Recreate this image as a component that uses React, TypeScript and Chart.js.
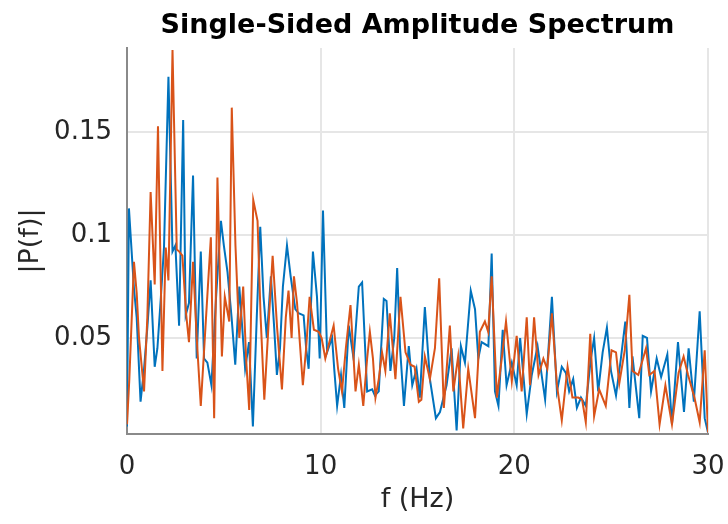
import { useEffect, useRef } from "react";
import { Chart, registerables } from "chart.js";

Chart.register(...registerables);

// Spectrum of the first signal (blue trace)
const blueFreq = [
  0, 0.1, 0.36, 0.5, 0.7, 0.88, 1.05, 1.22, 1.43, 1.57, 1.75, 1.91, 2.14, 2.35, 2.5, 2.69, 2.9, 3.03, 3.2, 3.41,
  3.6, 3.81, 3.98, 4.15, 4.36, 4.6, 4.85, 5.0, 5.19, 5.4, 5.59, 5.8, 5.95, 6.1, 6.3, 6.5, 6.7, 6.88, 7.05, 7.22,
  7.43, 7.6, 7.74, 7.9, 8.05, 8.26, 8.45, 8.69, 8.86, 9.12, 9.25, 9.38, 9.6, 9.81, 9.95, 10.12, 10.33, 10.59, 10.7, 10.85,
  11.05, 11.22, 11.45, 11.7, 11.97, 12.14, 12.4, 12.66, 12.8, 13.0, 13.26, 13.4, 13.6, 13.8, 13.95, 14.1, 14.3, 14.55, 14.73, 14.95,
  15.12, 15.38, 15.64, 15.95, 16.16, 16.5, 16.76, 17.02, 17.24, 17.45, 17.75, 17.97, 18.14, 18.31, 18.66, 18.83, 19.0, 19.18, 19.4, 19.6,
  19.87, 20.12, 20.3, 20.64, 20.9, 21.2, 21.59, 21.94, 22.2, 22.45, 22.66, 22.83, 23.04, 23.23, 23.44, 23.69, 23.95, 24.12, 24.33, 24.56,
  24.78, 24.99, 25.25, 25.5, 25.73, 25.94, 26.1, 26.45, 26.63, 26.85, 27.06, 27.35, 27.58, 27.9, 28.14, 28.45, 28.76, 29.0, 29.27, 29.57,
  29.83, 30.0,
];
const blueAmp = [
  0.007, 0.113, 0.074, 0.06, 0.019, 0.035, 0.055, 0.078, 0.036, 0.045, 0.07, 0.094, 0.177, 0.092, 0.095, 0.056, 0.156, 0.061, 0.067, 0.129,
  0.04, 0.092, 0.04, 0.038, 0.027, 0.07, 0.107, 0.095, 0.082, 0.06, 0.037, 0.075, 0.055, 0.035, 0.048, 0.007, 0.06, 0.104, 0.07, 0.05,
  0.08, 0.055, 0.032, 0.045, 0.075, 0.095, 0.08, 0.064, 0.062, 0.061, 0.045, 0.035, 0.092, 0.07, 0.04, 0.112, 0.043, 0.05, 0.035, 0.017,
  0.032, 0.016, 0.056, 0.04, 0.075, 0.077, 0.024, 0.025, 0.022, 0.024, 0.069, 0.068, 0.034, 0.05, 0.084, 0.045, 0.017, 0.046, 0.027, 0.035,
  0.021, 0.065, 0.03, 0.011, 0.014, 0.027, 0.045, 0.005, 0.046, 0.038, 0.073, 0.064, 0.04, 0.048, 0.046, 0.091, 0.024, 0.017, 0.054, 0.027,
  0.038, 0.027, 0.05, 0.013, 0.032, 0.046, 0.02, 0.07, 0.024, 0.036, 0.033, 0.024, 0.03, 0.016, 0.021, 0.017, 0.04, 0.05, 0.024, 0.043,
  0.055, 0.034, 0.022, 0.04, 0.058, 0.016, 0.041, 0.011, 0.051, 0.05, 0.024, 0.04, 0.031, 0.042, 0.008, 0.048, 0.014, 0.045, 0.019, 0.063,
  0.011, 0.004,
];

// Spectrum of the second signal (orange trace)
const orangeFreq = [
  0, 0.12, 0.36, 0.5, 0.62, 0.88, 1.05, 1.22, 1.43, 1.6, 1.83, 2.0, 2.14, 2.35, 2.57, 2.7, 2.86, 3.05, 3.2, 3.41,
  3.6, 3.81, 4.05, 4.33, 4.5, 4.67, 4.9, 5.05, 5.28, 5.41, 5.6, 5.8, 6.0, 6.15, 6.31, 6.52, 6.74, 6.9, 7.09, 7.3,
  7.52, 7.75, 8.0, 8.2, 8.34, 8.5, 8.62, 8.78, 9.08, 9.25, 9.43, 9.65, 9.9, 10.05, 10.24, 10.45, 10.67, 10.9, 11.1, 11.3,
  11.54, 11.8, 11.97, 12.2, 12.4, 12.54, 12.7, 12.83, 13.0, 13.17, 13.34, 13.57, 13.86, 14.12, 14.38, 14.64, 14.85, 15.07, 15.2, 15.38,
  15.64, 15.9, 16.12, 16.36, 16.67, 16.85, 17.1, 17.36, 17.62, 17.97, 18.22, 18.48, 18.65, 18.83, 19.1, 19.35, 19.57, 19.87, 20.12, 20.38,
  20.64, 20.81, 21.02, 21.25, 21.5, 21.7, 21.94, 22.2, 22.45, 22.75, 23.0, 23.3, 23.5, 23.69, 23.92, 24.12, 24.38, 24.72, 25.02, 25.25,
  25.42, 25.7, 25.94, 26.1, 26.4, 26.8, 26.97, 27.24, 27.5, 27.8, 28.14, 28.48, 28.74, 28.97, 29.3, 29.57, 29.83, 30.0,
];
const orangeAmp = [
  0.008, 0.03, 0.087, 0.072, 0.05, 0.024, 0.06, 0.121, 0.076, 0.153, 0.034, 0.094, 0.078, 0.19, 0.093, 0.092, 0.09, 0.062, 0.048, 0.087,
  0.05, 0.017, 0.055, 0.099, 0.011, 0.128, 0.041, 0.07, 0.058, 0.162, 0.095, 0.05, 0.075, 0.04, 0.015, 0.117, 0.107, 0.06, 0.02, 0.055,
  0.09, 0.055, 0.025, 0.06, 0.073, 0.05, 0.08, 0.067, 0.027, 0.045, 0.07, 0.054, 0.053, 0.05, 0.04, 0.048, 0.056, 0.035, 0.024, 0.045,
  0.066, 0.024, 0.037, 0.017, 0.04, 0.053, 0.04, 0.021, 0.03, 0.043, 0.034, 0.062, 0.03, 0.07, 0.043, 0.037, 0.036, 0.019, 0.02, 0.041,
  0.03, 0.045, 0.079, 0.016, 0.056, 0.024, 0.041, 0.006, 0.035, 0.011, 0.053, 0.058, 0.053, 0.08, 0.021, 0.04, 0.058, 0.029, 0.051, 0.024,
  0.06, 0.027, 0.06, 0.032, 0.04, 0.035, 0.062, 0.027, 0.01, 0.036, 0.021, 0.021, 0.02, 0.009, 0.052, 0.012, 0.025, 0.017, 0.044, 0.043,
  0.028, 0.044, 0.071, 0.034, 0.032, 0.045, 0.032, 0.034, 0.008, 0.027, 0.008, 0.033, 0.041, 0.032, 0.021, 0.009, 0.044, 0.004,
];

const xTicks = [0, 10, 20, 30];
const yTicks = [0.05, 0.1, 0.15];
const yTickLabels = ["0.05", "0.1", "0.15"];

const titleText = "Single-Sided Amplitude Spectrum";
const xLabel = "f (Hz)";
const yLabel = "|P(f)|";

const FONT = "'DejaVu Sans', sans-serif";
const TEXT = "#262626";

const labelsPlugin = {
  id: "axisTexts",
  afterDraw(chart: any) {
    const { ctx, chartArea } = chart;
    const cx = (chartArea.left + chartArea.right) / 2;
    const cy = (chartArea.top + chartArea.bottom) / 2;
    ctx.save();
    ctx.fillStyle = "#000";
    ctx.textAlign = "center";
    ctx.textBaseline = "alphabetic";
    ctx.font = `bold 27px ${FONT}`;
    ctx.fillText(titleText, cx, 33);

    ctx.fillStyle = TEXT;
    ctx.font = `27px ${FONT}`;
    ctx.textBaseline = "middle";
    ctx.fillText(xLabel, cx, 500);

    ctx.translate(31, cy);
    ctx.rotate(-Math.PI / 2);
    ctx.fillText(yLabel, 0, 0);
    ctx.restore();
  },
};

export default function App() {
  const ref = useRef<HTMLCanvasElement>(null);

  useEffect(() => {
    if (!ref.current) return;
    const chart = new Chart(ref.current, {
      type: "line",
      data: {
        datasets: [
          {
            label: "orange",
            data: orangeFreq.map((f, i) => ({ x: f, y: orangeAmp[i] })),
            borderColor: "#D95319",
            borderWidth: 2,
            pointRadius: 0,
            tension: 0,
          },
          {
            label: "blue",
            data: blueFreq.map((f, i) => ({ x: f, y: blueAmp[i] })),
            borderColor: "#0072BD",
            borderWidth: 2,
            pointRadius: 0,
            tension: 0,
          },
        ],
      },
      options: {
        animation: false,
        responsive: false,
        layout: { padding: { top: 48, right: 20, left: 0, bottom: 0 } },
        plugins: {
          legend: { display: false },
          tooltip: { enabled: false },
          title: { display: false },
        },
        scales: {
          x: {
            type: "linear",
            min: 0,
            max: 30,
            afterBuildTicks: (axis: any) => {
              axis.ticks = xTicks.map((v) => ({ value: v }));
            },
            afterFit: (scale: any) => {
              scale.height = 90;
              scale.paddingLeft = 0;
              scale.paddingRight = 0;
            },
            ticks: {
              padding: 18,
              color: TEXT,
              font: { family: FONT, size: 26 },
              callback: (v: any) => String(v),
              maxRotation: 0,
            },
            grid: { color: "#e6e6e6", lineWidth: 2, drawTicks: false },
            border: { display: true, color: "#8a8a8a", width: 2 },
          },
          y: {
            type: "linear",
            min: 0.0033,
            max: 0.191,
            afterBuildTicks: (axis: any) => {
              axis.ticks = yTicks.map((v) => ({ value: v }));
            },
            afterFit: (scale: any) => {
              scale.width = 127;
              scale.paddingTop = 0;
              scale.paddingBottom = 0;
            },
            ticks: {
              padding: 15,
              color: TEXT,
              font: { family: FONT, size: 26 },
              callback: (v: any) => {
                const i = yTicks.indexOf(v);
                return i >= 0 ? yTickLabels[i] : "";
              },
            },
            grid: { color: "#e6e6e6", lineWidth: 2, drawTicks: false },
            border: { display: true, color: "#8a8a8a", width: 2 },
          },
        },
      },
      plugins: [labelsPlugin],
    });
    return () => chart.destroy();
  }, []);

  return (
    <div style={{ position: "fixed", left: 0, top: 0, width: 728, height: 524, background: "#fff" }}>
      <canvas ref={ref} width={728} height={524} style={{ display: "block" }} />
    </div>
  );
}
